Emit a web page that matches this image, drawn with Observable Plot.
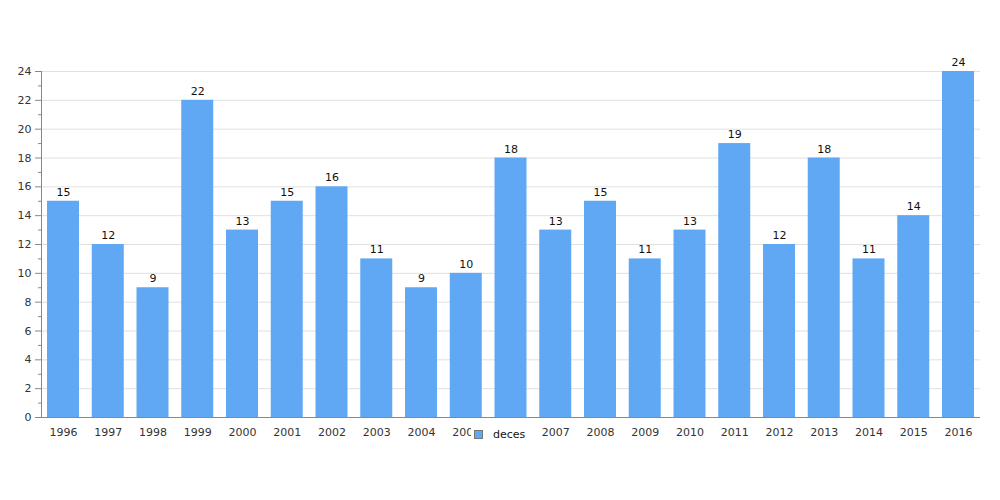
<!DOCTYPE html>
<html>
<head>
<meta charset="utf-8">
<script src="https://cdn.jsdelivr.net/npm/d3@7"></script>
<script src="https://cdn.jsdelivr.net/npm/@observablehq/plot@0.6"></script>
<style>
  html, body { margin: 0; padding: 0; background: #fff; }
  #wrap { position: relative; width: 1000px; height: 500px; font-family: "DejaVu Sans", sans-serif; }
  #legend { position: absolute; left: 471px; top: 427px; background: #fff; padding: 1px 3px; font-size: 11px; color: #111; display: flex; align-items: center; }
  #legend .sw { width: 7px; height: 7px; background: #60a8f4; border: 1px solid #777; margin-right: 10px; }
</style>
</head>
<body>
<div id="wrap"></div>
<script>
const years = ["1996","1997","1998","1999","2000","2001","2002","2003","2004","2005","2006","2007","2008","2009","2010","2011","2012","2013","2014","2015","2016"];
const deces = [15,12,9,22,13,15,16,11,9,10,18,13,15,11,13,19,12,18,11,14,24];
const yMajor = [0,2,4,6,8,10,12,14,16,18,20,22,24];
const yMinor = [1,3,5,7,9,11,13,15,17,19,21,23];

const data = years.map((y, i) => ({year: y, value: deces[i]}));

const chart = Plot.plot({
  width: 1000,
  height: 500,
  marginLeft: 41,
  marginRight: 20,
  marginTop: 71,
  marginBottom: 83,
  style: {fontFamily: "DejaVu Sans, sans-serif", fontSize: "11px", color: "#333", background: "#fff"},
  x: {domain: years, range: [34.25, 986.75], padding: 0.285, round: false, label: null},
  y: {domain: [0, 24], label: null},
  marks: [
    Plot.gridY(yMajor, {stroke: "#e0e0e0", strokeOpacity: 1}),
    Plot.barY(data, {x: "year", y: "value", fill: "#60a8f4"}),
    Plot.text(data, {x: "year", y: "value", text: d => String(d.value), dy: -9, fill: "#111", fontSize: 11}),
    Plot.axisY(yMajor, {tickSize: 6, tickPadding: 4, stroke: "#888", fill: "#333", label: null}),
    Plot.axisY(yMinor, {tickSize: 3, text: null, stroke: "#888", label: null}),
    Plot.frame({anchor: "left", stroke: "#888"}),
    Plot.axisX({tickSize: 0, tickPadding: 11, fill: "#333", label: null}),
    Plot.ruleY([0], {stroke: "#888"})
  ]
});
document.getElementById("wrap").appendChild(chart);
const lg = document.createElement("div");
lg.id = "legend";
lg.innerHTML = '<span class="sw"></span><span>deces</span>';
document.getElementById("wrap").appendChild(lg);
</script>
</body>
</html>
